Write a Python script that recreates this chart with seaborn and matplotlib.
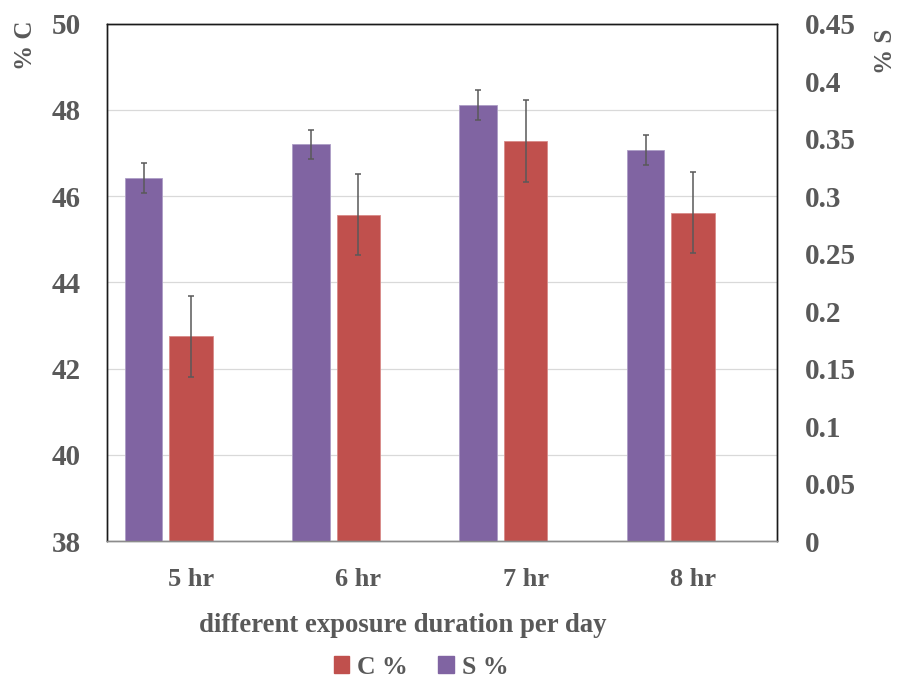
import numpy as np
import pandas as pd
import matplotlib.pyplot as plt
from matplotlib.patches import Patch
import seaborn as sns

# values
categories = ['5 hr', '6 hr', '7 hr', '8 hr']
c_pct = [42.75, 45.57, 47.28, 45.62]
c_err = [0.94, 0.94, 0.95, 0.94]
s_pct = [0.316, 0.345, 0.3795, 0.340]
s_err = [0.013, 0.013, 0.013, 0.013]

RED = '#C0504D'
PURPLE = '#8064A2'
TEXT = '#595959'

sns.set_theme(style='white')
plt.rcParams['font.family'] = ['Liberation Serif', 'DejaVu Serif']
plt.rcParams['font.weight'] = 'bold'

df = pd.DataFrame({'duration': categories, 'C': c_pct, 'S': s_pct})
df['pos'] = np.arange(len(df), dtype=float)
df['pos_s'] = df['pos'] - 0.283

fig = plt.figure(figsize=(9.01, 6.79), dpi=100)
ax = fig.add_axes([0.119, 0.203, 0.743, 0.762])
ax2 = ax.twinx()

# C % on the primary axis, S % on the secondary axis
sns.barplot(data=df, x='pos', y='C', native_scale=True, width=0.26,
            color=RED, saturation=1, ax=ax, edgecolor='#d98a88', linewidth=0.6)
sns.barplot(data=df, x='pos_s', y='S', native_scale=True, width=0.225,
            color=PURPLE, saturation=1, ax=ax2, edgecolor='#ad9dc6', linewidth=0.6)

ax.errorbar(df['pos'], df['C'], yerr=c_err, fmt='none', ecolor=TEXT,
            elinewidth=1.1, capsize=2.5, capthick=1.1, zorder=5)
ax2.errorbar(df['pos_s'], df['S'], yerr=s_err, fmt='none', ecolor=TEXT,
             elinewidth=1.1, capsize=2.5, capthick=1.1, zorder=5)

ax.set_ylim(38, 50)
ax.set_yticks(np.arange(38, 51, 2))
ax2.set_ylim(0, 0.45)
ax2.set_yticks(np.arange(0, 0.46, 0.05))
ax2.set_yticklabels(['0', '0.05', '0.1', '0.15', '0.2', '0.25', '0.3', '0.35', '0.4', '0.45'])
ax.set_xlim(-0.5, 3.5)
ax.set_xticks(df['pos'])
ax.set_xticklabels(categories)

ax.yaxis.grid(True, color='#d9d9d9', linewidth=0.9)
ax.set_axisbelow(True)

for a in (ax, ax2):
    a.set_xlabel('')
    a.set_ylabel('')
    a.tick_params(length=0, colors=TEXT)
    for side in ('left', 'right', 'top'):
        a.spines[side].set_color('#1a1a1a')
        a.spines[side].set_linewidth(1.0)
    a.spines['bottom'].set_color('#8c8c8c')
    a.spines['bottom'].set_linewidth(1.0)
ax.tick_params(axis='y', pad=19, labelsize=21)
ax2.tick_params(axis='y', pad=20, labelsize=21)
ax.tick_params(axis='x', pad=19.5, labelsize=19)

fig.text(25 / 901, 1 - 45 / 679, '% C', rotation=90, ha='center', va='center',
         fontsize=18, color=TEXT, fontweight='bold')
fig.text(886 / 901, 1 - 51 / 679, '% S', rotation=90, ha='center', va='center',
         fontsize=18, color=TEXT, fontweight='bold')
fig.text(403 / 901, 1 - 625 / 679, 'different exposure duration per day',
         ha='center', va='center', fontsize=19.3, color=TEXT, fontweight='bold')

handles = [Patch(color=RED, label='C %'), Patch(color=PURPLE, label='S %')]
fig.legend(handles=handles, loc='center', bbox_to_anchor=(421 / 901, 1 - 667 / 679),
           ncol=2, frameon=False, fontsize=18.5, labelcolor=TEXT,
           handlelength=0.6, handleheight=0.6, handletextpad=0.3, columnspacing=1.2)

fig.savefig('out.png', dpi=100)
